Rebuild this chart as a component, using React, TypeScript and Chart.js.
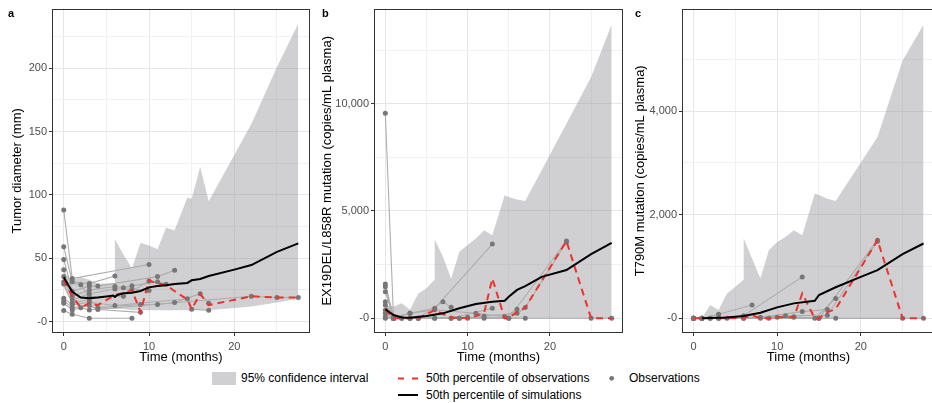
import React, { useEffect, useRef } from "react";
import { Chart, registerables } from "chart.js";

Chart.register(...registerables);

const FONT = '"Liberation Sans", Arial, Helvetica, sans-serif';
Chart.defaults.font.family = FONT;

// ---------- shared ----------
const X_TICKS = [0, 5, 10, 15, 20, 25];
const OBS_T = [0, 1, 2, 3, 4, 6, 7, 8, 9, 10, 11, 12, 13, 14.5, 15, 16, 17, 22, 25, 27.5];

// ---------- panel a: tumor diameter ----------
const A_BAND_T = [0, 1, 2, 3, 4, 5.9, 6, 7, 8, 9, 10, 11, 12, 13, 14.5, 15, 16, 17, 22, 25, 27.5];
const A_BAND_HI = [38, 33, 35, 33, 30, 30, 65, 53, 42, 62, 60, 57, 74, 72, 98, 97, 122, 95, 156, 201, 235];
const A_BAND_LO = [27, 14, 12, 11, 10, 10, 10, 10, 9, 9, 9, 9, 9, 9, 9, 9, 9, 9, 12, 15, 18];
const A_SIM_T = [0, 1, 2, 3, 4, 5, 5.8, 6, 6.3, 7, 8, 9, 10, 11, 12, 13, 14.5, 15, 16, 17, 20, 22, 25, 27.5];
const A_SIM = [35, 23.5, 19, 18.4, 19, 19.8, 20.5, 19.5, 21, 22.3, 22.8, 24.2, 27, 28, 28.6, 29.6, 30.5, 32.6, 33.6, 36, 41, 44.6, 55, 61.7];
const A_OBS_MED = [33, 20, 11, 14.5, 13, 21, 22.5, 25, 7.5, 32.5, 30, 29, 24, 17.5, 9.8, 21.8, 13, 20, 19, 19];
const A_P1 = [[0, 88], [1, 34], [10, 45]];
const A_P2 = [[0, 59], [1, 31.5], [3, 30], [6, 36]];
const A_P3 = [[0, 49], [1, 24], [3, 28], [4, 28], [11, 35.5], [13, 40.6]];
const A_P4 = [[0, 41], [1, 20], [3, 25], [6, 27.6], [7, 26.8], [8, 28.2], [11, 31.5], [12, 29.5]];
const A_P5 = [[0, 35.5], [1, 17], [3, 22], [6, 25.7], [8, 25.7], [10, 24.5]];
const A_P6 = [[0, 31.5], [2, 29], [3, 19.7], [7, 20], [10, 32]];
const A_P7 = [[0, 29.7], [1, 14.5], [3, 17.6], [4, 11], [9, 13.5], [11, 13.5], [13, 15], [16, 22], [17, 14.5]];
const A_P8 = [[0, 18.4], [1, 13.2], [3, 15.3], [6, 12.7], [14.5, 18], [15, 9.8], [17, 9]];
const A_P9 = [[0, 16.3], [1, 11], [3, 12.7], [4, 9.6], [9, 7.3]];
const A_P10 = [[0, 14.5], [1, 9.2], [2, 11], [3, 9.2], [22, 20], [25, 19], [27.5, 19]];
const A_P11 = [[0, 8.7], [1, 5.8], [3, 2.6], [8, 2.6]];

// ---------- panel b: EX19DEL/L858R ----------
const B_BAND_T = [0, 1, 2, 3, 4, 5, 5.95, 6, 7, 8, 9, 10, 11, 12, 13, 14.5, 15, 16, 17, 22, 25, 27.5];
const B_BAND_HI = [600, 550, 700, 400, 1160, 1400, 1780, 3670, 2870, 1860, 3100, 3410, 3720, 4100, 3870, 5730, 5650, 5530, 5470, 9070, 11240, 13690];
const B_BAND_LO = [100, 0, 0, 0, 0, 0, 0, 0, 0, 0, 0, 0, 0, 0, 0, 0, 0, 0, 0, 0, 0, 0];
const B_SIM_T = [0, 1, 2, 3, 5, 7, 9, 11, 13, 14.5, 15, 16, 17, 19, 22, 25, 27.5];
const B_SIM = [420, 150, 40, 30, 107, 230, 465, 665, 770, 820, 1000, 1320, 1500, 1930, 2250, 2990, 3520];
const B_OBS_MED = [420, 0, 0, 0, 0, 380, 200, 50, 0, 30, 100, 250, 1850, 0, 0, 300, 500, 3600, 0, 0];
const B_P1 = [[0, 9550], [1, 0], [3, 0], [4, 0]];
const B_P2 = [[0, 1600], [1, 50], [3, 230], [6, 465], [13, 3460]];
const B_P3 = [[0, 1470], [1, 0], [4, 0], [7, 770], [8, 510]];
const B_P4 = [[0, 1240], [1, 0], [2, 0], [3, 0], [8, 0], [13, 465]];
const B_P5 = [[0, 770], [1, 0], [3, 0], [6, 0], [9, 0], [15, 0], [22, 3600]];
const B_P6 = [[0, 620], [1, 0], [4, 0], [10, 0], [12, 100], [16, 230], [17, 500], [22, 3550]];
const B_P7 = [[0, 390], [1, 0], [3, 230], [6, 400], [11, 230], [14.5, 75], [16, 420]];
const B_P8 = [[0, 230], [1, 0], [2, 0], [9, 0], [12, 0], [17, 0]];
const B_P9 = [[0, 75], [1, 0], [8, 0], [25, 0], [27.5, 0]];
const B_P10 = [[0, 0], [1, 0], [6, 0], [10, 50], [15, 0]];

// ---------- panel c: T790M ----------
const C_BAND_T = [0, 1, 2, 3, 4, 5, 5.95, 6, 7, 8, 9, 10, 11, 12, 13, 14.5, 15, 16, 17, 22, 25, 27.5];
const C_BAND_HI = [0, 0, 256, 160, 480, 610, 740, 1540, 1155, 770, 1315, 1475, 1570, 1700, 1605, 2410, 2380, 2310, 2265, 3500, 4980, 5670];
const C_BAND_LO = [0, 0, 0, 0, 0, 0, 0, 0, 0, 0, 0, 0, 0, 0, 0, 0, 0, 0, 0, 0, 0, 0];
const C_SIM_T = [1, 4, 6, 8, 10, 12, 14.5, 15, 17, 20, 22, 25, 27.5];
const C_SIM = [0, 15, 45, 108, 212, 289, 339, 450, 600, 800, 930, 1240, 1445];
const C_OBS_MED = [0, 0, 0, 0, 0, 10, 60, 0, 0, 20, 20, 20, 480, 0, 0, 120, 180, 1510, 0, 0];
const C_P1 = [[0, 0], [1, 0], [3, 80], [7, 256]];
const C_P2 = [[0, 0], [1, 0], [2, 0], [6, 50], [13, 800]];
const C_P3 = [[0, 0], [2, 0], [4, 0], [8, 20], [13, 130], [16, 170]];
const C_P4 = [[0, 0], [1, 0], [3, 0], [9, 0], [15, 0], [22, 1510]];
const C_P5 = [[0, 0], [1, 0], [6, 0], [11, 50], [16, 60], [22, 1490]];
const C_P6 = [[0, 0], [3, 0], [12, 20], [14.5, 0], [17, 385]];
const C_P7 = [[0, 0], [1, 0], [8, 0], [17, 0], [25, 0], [27.5, 0]];
const C_P8 = [[0, 0], [1, 0], [6, 0], [10, 20], [12, 30], [15, 0]];

// ---------- styles ----------
const BAND_FILL = "rgba(150,150,156,0.45)";
const BAND_KEY = "#d0d0d2";
const PATIENT_LINE = "#adadad";
const POINT_COL = "#777777";
const RED = "#f0302a";
const GRID_MAJOR = "#e6e6e6";
const GRID_MINOR = "#f1f1f1";
const TICK_COL = "#4d4d4d";

const PANELS = [
  {
    tag: "a", left: 0, width: 314, axisW: 52, padRight: 3, titlePad: 10, tagLeft: 8,
    title: "Tumor diameter (mm)", yMin: -9, yMax: 247, yStep: 25, yMajor: 50,
    bandT: A_BAND_T, bandLo: A_BAND_LO, bandHi: A_BAND_HI, simT: A_SIM_T, sim: A_SIM, obsMed: A_OBS_MED,
    patients: [A_P1, A_P2, A_P3, A_P4, A_P5, A_P6, A_P7, A_P8, A_P9, A_P10, A_P11],
  },
  {
    tag: "b", left: 314, width: 313, axisW: 60, padRight: 4, titlePad: 6, tagLeft: 322,
    title: "EX19DEL/L858R mutation (copies/mL plasma)", yMin: -685, yMax: 14430, yStep: 2500, yMajor: 5000,
    bandT: B_BAND_T, bandLo: B_BAND_LO, bandHi: B_BAND_HI, simT: B_SIM_T, sim: B_SIM, obsMed: B_OBS_MED,
    patients: [B_P1, B_P2, B_P3, B_P4, B_P5, B_P6, B_P7, B_P8, B_P9, B_P10],
  },
  {
    tag: "c", left: 627, width: 312, axisW: 55, padRight: 2, titlePad: 6, tagLeft: 635,
    title: "T790M mutation (copies/mL plasma)", yMin: -283, yMax: 5980, yStep: 1000, yMajor: 2000,
    bandT: C_BAND_T, bandLo: C_BAND_LO, bandHi: C_BAND_HI, simT: C_SIM_T, sim: C_SIM, obsMed: C_OBS_MED,
    patients: [C_P1, C_P2, C_P3, C_P4, C_P5, C_P6, C_P7, C_P8],
  },
];

const CANVAS_H = 365;

function pairs(t: number[], v: number[]) {
  return t.map((x, i) => ({ x, y: v[i] }));
}

const borderPlugin = {
  id: "panelBorder",
  afterDatasetsDraw(chart: any) {
    const { ctx, chartArea } = chart;
    const l = Math.round(chartArea.left) + 0.5;
    const t = Math.round(chartArea.top) + 0.5;
    const r = Math.round(chartArea.right) - 0.5;
    const b = Math.round(chartArea.bottom) - 0.5;
    ctx.save();
    ctx.strokeStyle = "#333333";
    ctx.lineWidth = 1;
    ctx.strokeRect(l, t, r - l, b - t);
    ctx.restore();
  },
};

function Panel({ p }: { p: any }) {
  const ref = useRef<HTMLCanvasElement | null>(null);
  useEffect(() => {
    if (!ref.current) return;
    const datasets: any[] = [];
    datasets.push({
      type: "line", data: pairs(p.bandT, p.bandLo), borderColor: "rgba(0,0,0,0)", borderWidth: 1,
      pointRadius: 0, fill: false, order: 10, tension: 0,
    });
    datasets.push({
      type: "line", data: pairs(p.bandT, p.bandHi), borderColor: "rgba(0,0,0,0)", borderWidth: 1,
      pointRadius: 0, fill: { target: 0 }, backgroundColor: BAND_FILL, order: 9, tension: 0,
    });
    const pts: any[] = [];
    p.patients.forEach((pt: number[][]) => {
      const d = pt.map(([x, y]) => ({ x, y }));
      pts.push(...d);
      datasets.push({
        type: "line", data: d, borderColor: PATIENT_LINE, borderWidth: 1.1, pointRadius: 0, fill: false, order: 5,
      });
    });
    datasets.push({
      type: "scatter", data: pts, pointRadius: 2.5, pointBackgroundColor: POINT_COL, pointBorderWidth: 0,
      backgroundColor: POINT_COL, borderColor: POINT_COL, order: 4,
    });
    datasets.push({
      type: "line", data: pairs(OBS_T, p.obsMed), borderColor: RED, borderWidth: 2, borderDash: [7, 5],
      pointRadius: 0, fill: false, order: 2,
    });
    datasets.push({
      type: "line", data: pairs(p.simT, p.sim), borderColor: "#000000", borderWidth: 2,
      pointRadius: 0, fill: false, order: 1,
    });

    const yTicks: number[] = [];
    for (let v = Math.ceil(p.yMin / p.yStep) * p.yStep; v <= p.yMax; v += p.yStep) yTicks.push(v);

    const chart = new Chart(ref.current, {
      type: "line",
      data: { datasets },
      plugins: [borderPlugin],
      options: {
        animation: false,
        responsive: false,
        events: [],
        layout: { padding: { top: 8, right: p.padRight, left: 0, bottom: 0 } },
        plugins: { legend: { display: false }, tooltip: { enabled: false } },
        scales: {
          x: {
            type: "linear", min: -1.375, max: 28.875,
            afterBuildTicks: (s: any) => { s.ticks = X_TICKS.map((value) => ({ value })); },
            afterFit: (s: any) => { s.height = CANVAS_H - 333; },
            border: { display: false },
            grid: {
              color: (c: any) => (c.tick && c.tick.value % 10 === 0 ? GRID_MAJOR : GRID_MINOR),
              tickColor: (c: any) => (c.tick && c.tick.value % 10 === 0 ? "#333333" : "rgba(0,0,0,0)"),
              tickLength: 3,
              lineWidth: 1,
            },
            ticks: {
              autoSkip: false, maxRotation: 0, padding: 4, color: TICK_COL, font: { size: 11, family: FONT },
              callback: (v: any) => (Number(v) % 10 === 0 ? String(v) : ""),
            },
            title: {
              display: true, text: "Time (months)", color: "#000", font: { size: 13, family: FONT },
              padding: { top: 0, bottom: 0 },
            },
          },
          y: {
            type: "linear", min: p.yMin, max: p.yMax,
            afterBuildTicks: (s: any) => { s.ticks = yTicks.map((value) => ({ value })); },
            afterFit: (s: any) => { s.width = p.axisW; },
            border: { display: false },
            grid: {
              color: (c: any) => (c.tick && c.tick.value % p.yMajor === 0 ? GRID_MAJOR : GRID_MINOR),
              tickColor: (c: any) => (c.tick && c.tick.value % p.yMajor === 0 ? "#333333" : "rgba(0,0,0,0)"),
              tickLength: 3,
              lineWidth: 1,
            },
            ticks: {
              autoSkip: false, padding: 2, color: TICK_COL, font: { size: 11, family: FONT },
              callback: (v: any) => (Number(v) % p.yMajor === 0 ? Number(v).toLocaleString("en-US") : ""),
            },
            title: {
              display: true, text: p.title, color: "#000", font: { size: 13, family: FONT },
              padding: { top: p.titlePad, bottom: 0 },
            },
          },
        },
      } as any,
    });
    return () => chart.destroy();
  }, [p]);

  return (
    <div style={{ position: "absolute", left: p.left, top: 0, width: p.width, height: CANVAS_H }}>
      <canvas ref={ref} width={p.width} height={CANVAS_H} style={{ display: "block", width: p.width, height: CANVAS_H }} />
      <div
        style={{
          position: "absolute", left: p.tagLeft - p.left, top: 8, fontSize: 11, lineHeight: "11px",
          fontWeight: "bold", fontFamily: FONT, color: "#000",
        }}
      >
        {p.tag}
      </div>
    </div>
  );
}

function Legend() {
  const txt: React.CSSProperties = {
    position: "absolute", fontSize: 12, lineHeight: "14px", color: "#000", whiteSpace: "nowrap", fontFamily: FONT,
  };
  return (
    <>
      <div style={{ position: "absolute", left: 212, top: 372, width: 24, height: 13, background: BAND_KEY }} />
      <div style={{ ...txt, left: 241, top: 371 }}>95% confidence interval</div>
      <svg style={{ position: "absolute", left: 396, top: 370 }} width={26} height={30}>
        <line x1={2} x2={22} y1={8.5} y2={8.5} stroke={RED} strokeWidth={2} strokeDasharray="6 8" />
        <line x1={2} x2={22} y1={25} y2={25} stroke="#000" strokeWidth={2} />
      </svg>
      <div style={{ ...txt, left: 426, top: 371 }}>50th percentile of observations</div>
      <div style={{ ...txt, left: 426, top: 388 }}>50th percentile of simulations</div>
      <svg style={{ position: "absolute", left: 606, top: 373 }} width={12} height={12}>
        <circle cx={5.7} cy={5.3} r={2.4} fill={POINT_COL} />
      </svg>
      <div style={{ ...txt, left: 629, top: 371 }}>Observations</div>
    </>
  );
}

export default function App() {
  return (
    <div
      style={{
        position: "fixed", left: 0, top: 0, width: 932, height: 403, overflow: "hidden",
        background: "#ffffff", fontFamily: FONT,
      }}
    >
      {PANELS.map((p) => (
        <Panel key={p.tag} p={p} />
      ))}
      <Legend />
    </div>
  );
}
